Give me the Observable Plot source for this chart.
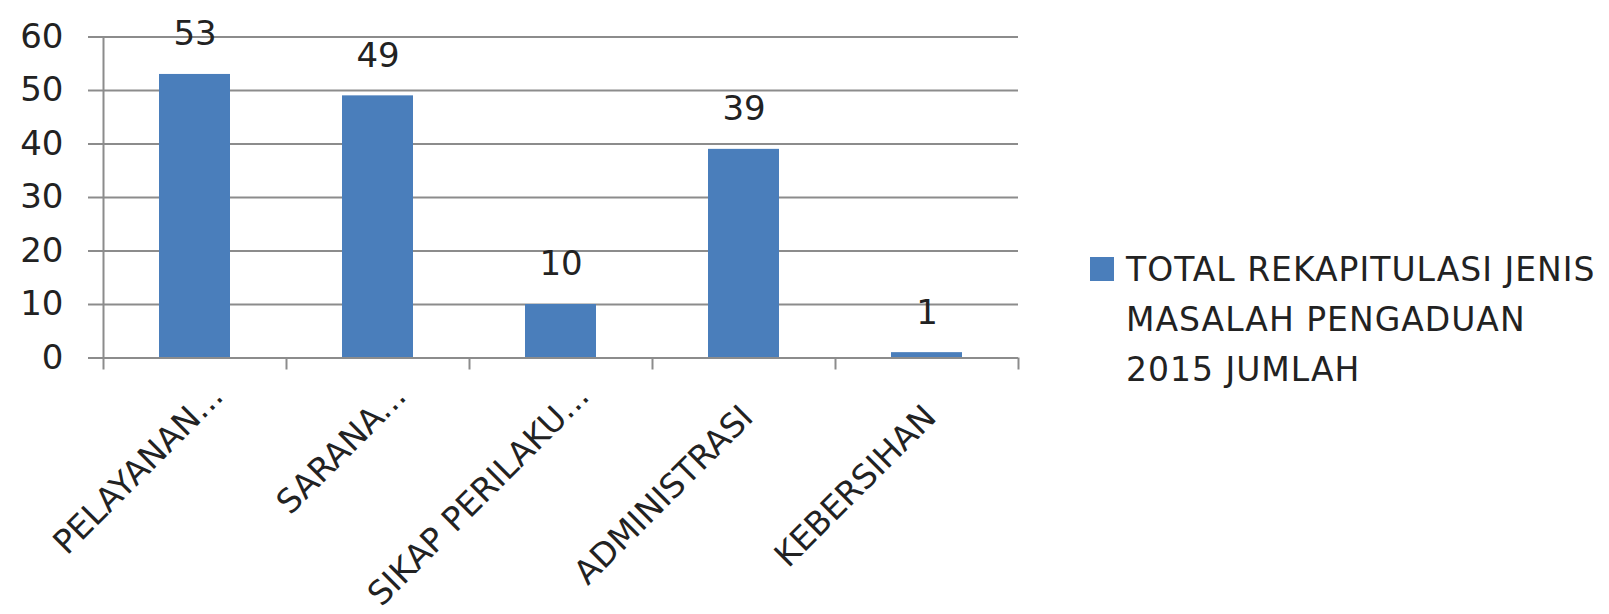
<!DOCTYPE html>
<html>
<head>
<meta charset="utf-8">
<script src="https://cdn.jsdelivr.net/npm/d3@7"></script>
<script src="https://cdn.jsdelivr.net/npm/@observablehq/plot@0.6"></script>
<style>
  html, body { margin: 0; padding: 0; background: #ffffff; }
  #wrap { position: relative; width: 1609px; height: 614px; font-family: "DejaVu Sans", sans-serif; color: #222222; }
  #chart { position: absolute; left: 0; top: 0; }
  #legend { position: absolute; left: 1090px; top: 245px; font-size: 33px; letter-spacing: 1px; line-height: 50px; white-space: nowrap; }
  #legend .row { display: flex; align-items: flex-start; }
  #legend .swatch { width: 24px; height: 24px; margin-top: 12px; margin-right: 12px; flex: none; }
</style>
</head>
<body>
<div id="wrap">
  <div id="chart"></div>
  <div id="legend"></div>
</div>
<script>
// ---- data ----
const categories = ["PELAYANAN...", "SARANA...", "SIKAP PERILAKU...", "ADMINISTRASI", "KEBERSIHAN"];
const values = [53, 49, 10, 39, 1];
const yTicks = [0, 10, 20, 30, 40, 50, 60];
const seriesLines = ["TOTAL REKAPITULASI JENIS", "MASALAH PENGADUAN", "2015 JUMLAH"];

// ---- layout / style ----
const W = 1060, H = 614;
const mL = 103, mR = 42, mT = 36.5, mB = 256.5;
const step = (W - mL - mR) / categories.length;
const barColor = "#4a7ebb";
const lineColor = "#8c8c8c";
const textColor = "#222222";
const fs = 34;
const xfs = 33;

const data = categories.map((c, i) => ({category: c, value: values[i]}));
const truncated = d => d.category.endsWith("...");

const chart = Plot.plot({
  width: W,
  height: H,
  marginLeft: mL,
  marginRight: mR,
  marginTop: mT,
  marginBottom: mB,
  style: {fontFamily: "DejaVu Sans, sans-serif", fontSize: fs + "px", color: textColor, background: "transparent"},
  x: {type: "band", domain: categories, paddingInner: 0.61, paddingOuter: 0.305},
  y: {domain: [0, 60]},
  marks: [
    Plot.gridY(yTicks, {stroke: lineColor, strokeOpacity: 1, strokeWidth: 2}),
    Plot.axisY(yTicks, {tickSize: 15, tickPadding: 25, stroke: lineColor, strokeWidth: 2, fill: textColor, fontSize: fs, label: null, tickFormat: d => String(d)}),
    Plot.barY(data, {x: "category", y: "value", fill: barColor}),
    Plot.ruleY([0], {stroke: lineColor, strokeWidth: 2}),
    Plot.frame({anchor: "left", stroke: lineColor, strokeWidth: 2}),
    Plot.axisX(categories, {tickSize: 12, dx: -step / 2, stroke: lineColor, strokeWidth: 2, tickFormat: () => "", label: null}),
    Plot.axisX([categories[categories.length - 1]], {tickSize: 12, dx: step / 2, stroke: lineColor, strokeWidth: 2, tickFormat: () => "", label: null}),
    Plot.text(data, {x: "category", y: "value", text: d => String(d.value), dy: -40, fontSize: fs, fill: textColor}),
    Plot.text(data, {filter: d => !truncated(d), x: "category", frameAnchor: "bottom", text: "category", rotate: -45, textAnchor: "end", lineAnchor: "bottom", dx: 11, dy: 61, fontSize: xfs, letterSpacing: "1.5px", fill: textColor}),
    Plot.text(data, {filter: truncated, x: "category", frameAnchor: "bottom", text: "category", rotate: -45, textAnchor: "end", lineAnchor: "bottom", dx: 30, dy: 40, fontSize: xfs, letterSpacing: "1.5px", fill: textColor})
  ]
});
document.getElementById("chart").appendChild(chart);

// ---- legend ----
const legend = document.getElementById("legend");
seriesLines.forEach((line, i) => {
  const row = document.createElement("div");
  row.className = "row";
  const sw = document.createElement("div");
  sw.className = "swatch";
  sw.style.background = i === 0 ? barColor : "transparent";
  const t = document.createElement("span");
  t.textContent = line;
  row.appendChild(sw);
  row.appendChild(t);
  legend.appendChild(row);
});
</script>
</body>
</html>
